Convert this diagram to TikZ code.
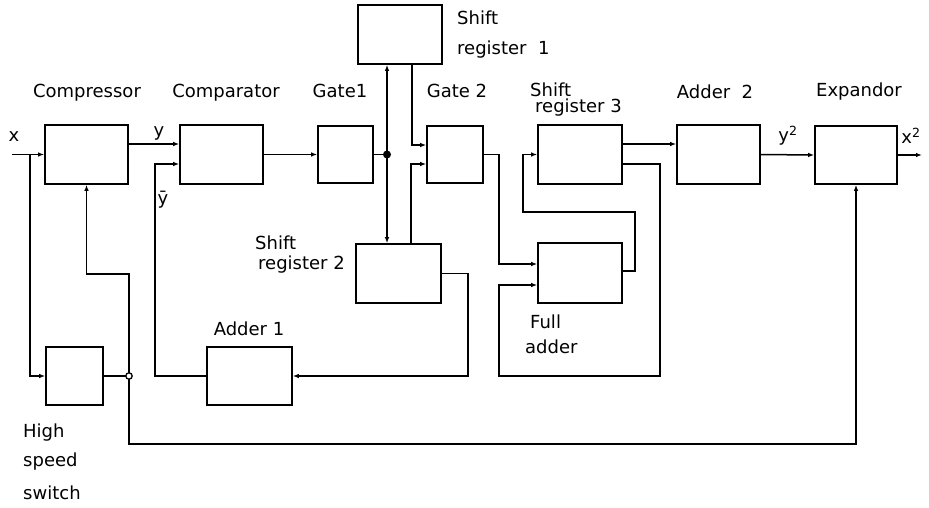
\documentclass[tikz,border=0pt]{standalone}
\usepackage{fontspec}
\usetikzlibrary{arrows.meta}
\newfontfamily\lblfont{DejaVu Sans}
\begin{document}
\begin{tikzpicture}[x=1pt,y=-1pt,
  blk/.style={draw,line width=1.6pt,inner sep=0pt,minimum width=#1},
  blk/.default=84pt,
  wire/.style={line width=1.5pt},
  arr/.style={wire,-{Latex[length=6pt,width=4.5pt]}},
  lbl/.style={font=\lblfont\fontsize{18}{20}\selectfont,inner sep=0pt},
  lblw/.style={lbl,anchor=west}]
\useasboundingbox (0,0) rectangle (929,507);
% blocks
\node[blk=83pt,minimum height=59pt] (comp) at (86.5,154.5) {};
\node[blk=83pt,minimum height=59pt] (compar) at (221.5,154.5) {};
\node[blk=55pt,minimum height=57pt] (gate1) at (345.5,154.5) {};
\node[blk=84pt,minimum height=59pt] (sr1) at (400,34.5) {};
\node[blk=56pt,minimum height=57pt] (gate2) at (455,154.5) {};
\node[blk=84pt,minimum height=59pt] (sr3) at (580,154.5) {};
\node[blk=83pt,minimum height=59pt] (add2) at (718.5,154.5) {};
\node[blk=82pt,minimum height=58pt] (exp) at (856,155) {};
\node[blk=84pt,minimum height=60pt] (fa) at (580,273) {};
\node[blk=85pt,minimum height=59pt] (sr2) at (398.5,273.5) {};
\node[blk=85pt,minimum height=58pt] (add1) at (249.5,376) {};
\node[blk=57pt,minimum height=58pt] (hss) at (74.5,376) {};
% junctions
\coordinate (xin) at (12,154.5);
\coordinate (xb) at (30,154.5);
\coordinate (j1) at (129,376);
\coordinate (d1) at (387,154.5);
\coordinate (xout) at (922,155);
% connectors
\draw[arr] (xin) -- (comp.west);
\draw[arr] (xb) |- (hss.west);
\draw[wire] (hss.east) -- (j1);
\draw[arr] (j1) -- (129,274) -| (comp.south);
\draw[arr] (j1) -- (129,444) -| (exp.south);
\draw[arr] (comp.east |- 0,144) -- (compar.west |- 0,144);
\draw[arr] (add1.west) -| (155,164) -- (compar.west |- 0,164);
\draw[arr] (compar.east) -- (gate1.west);
\draw[wire] (gate1.east) -- (d1);
\draw[arr] (d1) -- (d1 |- sr1.south);
\draw[arr] (d1) -- (d1 |- sr2.north);
\draw[arr] (sr1.south -| 412,0) |- (gate2.west |- 0,145);
\draw[arr] (sr2.north -| 411,0) |- (gate2.west |- 0,164);
\draw[arr] (gate2.east) -| (499,264) -- (fa.west |- 0,264);
\draw[arr] (sr3.east |- 0,164) -| (660,376) -| (499,285) -- (fa.west |- 0,285);
\draw[arr] (fa.east |- 0,271) -| (635,212) -| (523,154.5) -- (sr3.west);
\draw[arr] (sr3.east |- 0,144) -- (add2.west |- 0,144);
\draw[arr] (add2.east) -- (exp.west);
\draw[arr] (exp.east) -- (xout);
\draw[arr] (sr2.east) -| (468,376) -- (add1.east);
\fill (d1) circle (4);
\draw[line width=1.3pt,fill=white] (j1) circle (3.2);
% labels
\node[lbl] (tcomp) at (87,93) {Compressor};
\node[lbl] (tcompar) at (226,93) {Comparator};
\node[lbl] (tg1) at (340,91) {Gate1};
\node[lbl] (tg2) at (457,91) {Gate 2};
\node[lblw] (tsr1a) at (457,18) {Shift};
\node[lblw] (tsr1b) at (457,50) {register\ \ 1};
\node[lbl,anchor=north west,align=left,font=\lblfont\fontsize{18}{16}\selectfont] (tsr3) at (530,83) {Shift\\\hspace*{5pt}register 3};
\node[lbl] (tadd2) at (715,92) {Adder\ \ 2};
\node[lbl] (texp) at (859,92) {Expandor};
\node[lblw] (tsr2a) at (255,243) {Shift};
\node[lblw] (tsr2b) at (258,265) {register 2};
\node[lbl] (tadd1) at (249,329) {Adder 1};
\node[lblw] (tfa1) at (530,322) {Full};
\node[lblw] (tfa2) at (525,347) {adder};
\node[lblw] (th1) at (23,433) {High};
\node[lblw] (th2) at (23,462) {speed};
\node[lblw] (th3) at (23,493) {switch};
\node[lbl] (tx) at (14,137) {x};
\node[lbl] (ty) at (159,133) {y};
\node[lbl] (tyb) at (163,200) {ȳ};
\node[lbl] (ty2) at (788,136) {y\textsuperscript{2}};
\node[lbl] (tx2) at (911,136) {x\textsuperscript{2}};
\end{tikzpicture}
\end{document}
